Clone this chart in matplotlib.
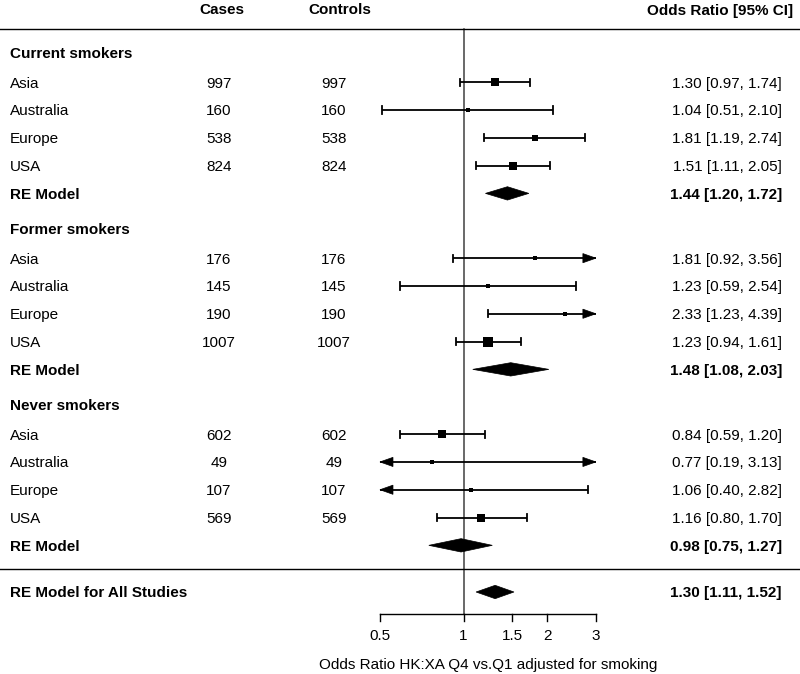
import numpy as np
import matplotlib
matplotlib.use("Agg")
import matplotlib.pyplot as plt
from matplotlib.patches import Polygon

plt.rcParams['font.family'] = ['Liberation Sans', 'DejaVu Sans']

# ---------------- data ----------------
groups = ["Current smokers", "Former smokers", "Never smokers"]
regions = ["Asia", "Australia", "Europe", "USA"]
cases = [[997, 160, 538, 824], [176, 145, 190, 1007], [602, 49, 107, 569]]
controls = [[997, 160, 538, 824], [176, 145, 190, 1007], [602, 49, 107, 569]]
or_est = [[1.30, 1.04, 1.81, 1.51], [1.81, 1.23, 2.33, 1.23], [0.84, 0.77, 1.06, 1.16]]
or_lb = [[0.97, 0.51, 1.19, 1.11], [0.92, 0.59, 1.23, 0.94], [0.59, 0.19, 0.40, 0.80]]
or_ub = [[1.74, 2.10, 2.74, 2.05], [3.56, 2.54, 4.39, 1.61], [1.20, 3.13, 2.82, 1.70]]
re_est = [1.44, 1.48, 0.98]
re_lb = [1.20, 1.08, 0.75]
re_ub = [1.72, 2.03, 1.27]
all_est, all_lb, all_ub = 1.30, 1.11, 1.52
xticks = [0.5, 1, 1.5, 2, 3]
xlabel = "Odds Ratio HK:XA Q4 vs.Q1 adjusted for smoking"

# ---------------- layout ----------------
W, H = 800, 674
PXU = 120.5          # pixels per ln unit
X1 = 463.5           # pixel of OR = 1
ROW = 27.8           # pixels per row unit
Y0 = 53              # pixel of first group header
GSTEP = 6.33
xmin_clip, xmax_clip = np.log(xticks[0]), np.log(xticks[-1])

fig = plt.figure(figsize=(W / 100, H / 100), dpi=100)
ax = fig.add_axes([0, 0, 1, 1])
ax.set_xlim(-X1 / PXU, (W - X1) / PXU)
ax.set_ylim((H - Y0) / ROW, -Y0 / ROW)
ax.axis('off')
ytr = ax.get_yaxis_transform()

FS = 11
VA = 'center_baseline'
LBLX = 10 / W
CASEX = 219 / W
CTRLX = 334 / W
RIGHTX = 782 / W

# weights -> square size (like metafor default)
allw = []
for g in range(3):
    for i in range(4):
        se = (np.log(or_ub[g][i]) - np.log(or_lb[g][i])) / (2 * 1.96)
        allw.append(1 / se)
wmin, wmax = min(allw), max(allw)

cap = 0.13
arr_h = 0.165
arr_l = 13 / PXU
dia_h = 0.24
lw = 1.3


def draw_ci(y, est, lb, ub, w):
    llb, lub, lest = np.log(lb), np.log(ub), np.log(est)
    a = max(llb, xmin_clip)
    b = min(lub, xmax_clip)
    ax.plot([a, b], [y, y], color='black', lw=lw, solid_capstyle='butt')
    if llb >= xmin_clip:
        ax.plot([llb, llb], [y - cap, y + cap], color='black', lw=lw)
    else:
        ax.add_patch(Polygon([[xmin_clip, y], [xmin_clip + arr_l, y - arr_h],
                              [xmin_clip + arr_l, y + arr_h]], closed=True,
                             fc='black', ec='black', lw=0.5))
    if lub <= xmax_clip:
        ax.plot([lub, lub], [y - cap, y + cap], color='black', lw=lw)
    else:
        ax.add_patch(Polygon([[xmax_clip, y], [xmax_clip - arr_l, y - arr_h],
                              [xmax_clip - arr_l, y + arr_h]], closed=True,
                             fc='black', ec='black', lw=0.5))
    psize = (w - wmin) / (wmax - wmin) + 0.5
    ax.plot([lest], [y], marker='s', ms=4.4 * psize, color='black', mew=0, zorder=5)


def draw_diamond(y, est, lb, ub):
    ax.add_patch(Polygon([[np.log(lb), y], [np.log(est), y - dia_h],
                          [np.log(ub), y], [np.log(est), y + dia_h]],
                         closed=True, fc='black', ec='black', lw=0.5, zorder=5))


def fmt(e, l, u):
    return f"{e:.2f} [{l:.2f}, {u:.2f}]"


# header
yh = (9 - Y0) / ROW
ax.text(222 / W, yh, "Cases", transform=ytr, ha='center', va=VA, fontsize=FS, fontweight='bold')
ax.text(340 / W, yh, "Controls", transform=ytr, ha='center', va=VA, fontsize=FS, fontweight='bold')
ax.text(793 / W, yh, "Odds Ratio [95% CI]", transform=ytr, ha='right', va=VA, fontsize=FS, fontweight='bold')

ytop = (29 - Y0) / ROW
ax.plot([0, 1], [ytop, ytop], transform=ytr, color='black', lw=1.0)

k = 0
for g in range(3):
    yg = g * GSTEP
    ax.text(LBLX, yg, groups[g], transform=ytr, ha='left', va=VA, fontsize=FS, fontweight='bold')
    for i in range(4):
        y = yg + 1.05 + i
        ax.text(LBLX, y, regions[i], transform=ytr, ha='left', va=VA, fontsize=FS)
        ax.text(CASEX, y, str(cases[g][i]), transform=ytr, ha='center', va=VA, fontsize=FS)
        ax.text(CTRLX, y, str(controls[g][i]), transform=ytr, ha='center', va=VA, fontsize=FS)
        ax.text(RIGHTX, y, fmt(or_est[g][i], or_lb[g][i], or_ub[g][i]), transform=ytr,
                ha='right', va=VA, fontsize=FS)
        draw_ci(y, or_est[g][i], or_lb[g][i], or_ub[g][i], allw[k])
        k += 1
    yr = yg + 5.05
    ax.text(LBLX, yr, "RE Model", transform=ytr, ha='left', va=VA, fontsize=FS, fontweight='bold')
    ax.text(RIGHTX, yr, fmt(re_est[g], re_lb[g], re_ub[g]), transform=ytr,
            ha='right', va=VA, fontsize=FS, fontweight='bold')
    draw_diamond(yr, re_est[g], re_lb[g], re_ub[g])

ysep = (569 - Y0) / ROW
ax.plot([0, 1], [ysep, ysep], transform=ytr, color='black', lw=1.0)
yall = (592 - Y0) / ROW
ax.text(LBLX, yall, "RE Model for All Studies", transform=ytr, ha='left', va=VA, fontsize=FS, fontweight='bold')
ax.text(RIGHTX, yall, fmt(all_est, all_lb, all_ub), transform=ytr, ha='right', va=VA,
        fontsize=FS, fontweight='bold')
draw_diamond(yall, all_est, all_lb, all_ub)

# x axis
yax = (614 - Y0) / ROW
ax.plot([0, 0], [ytop, yax], color='#404040', lw=1.1, zorder=1)
ax.plot([xmin_clip, xmax_clip], [yax, yax], color='black', lw=1.0)
tick_len = 7 / ROW
for t in xticks:
    ax.plot([np.log(t), np.log(t)], [yax, yax + tick_len], color='black', lw=1.0)
    ax.text(np.log(t), yax + 21 / ROW, f"{t:g}", ha='center', va=VA, fontsize=FS)
ax.text((xmin_clip + xmax_clip) / 2, yax + 50 / ROW, xlabel, ha='center', va=VA, fontsize=FS)

fig.savefig("out.png", dpi=100)
